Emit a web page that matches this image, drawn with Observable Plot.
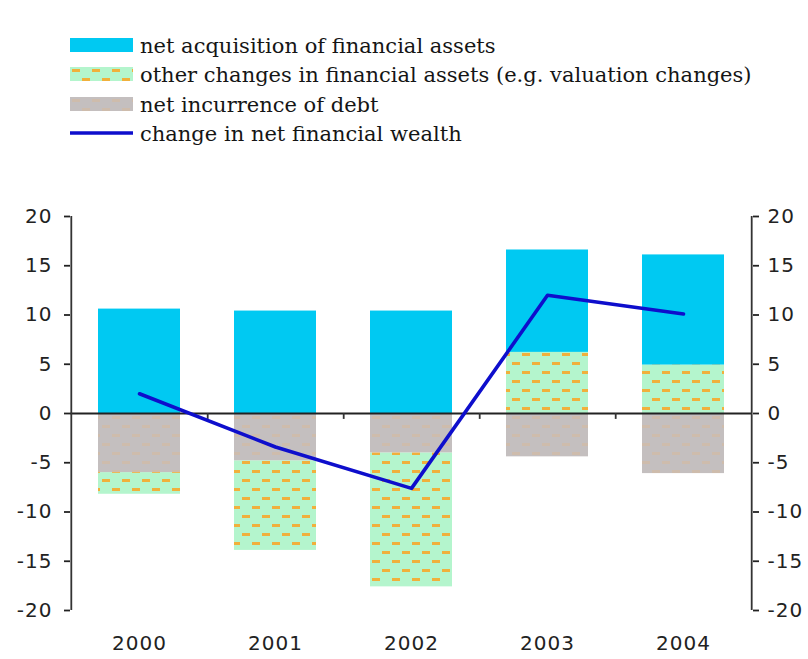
<!DOCTYPE html>
<html>
<head>
<meta charset="utf-8">
<script src="https://cdn.jsdelivr.net/npm/d3@7"></script>
<script src="https://cdn.jsdelivr.net/npm/@observablehq/plot@0.6"></script>
<style>
  html, body { margin: 0; padding: 0; background: #fff; }
  #wrap { width: 808px; height: 659px; position: relative; overflow: hidden; }
  #legend { position: relative; height: 170px; font-family: "DejaVu Serif", "Liberation Serif", serif; font-size: 20px; color: #151515; }
  .row { position: absolute; left: 70px; height: 24px; display: flex; align-items: center; }
  .row svg { display: block; margin-right: 7px; flex: none; }
  .row span { white-space: nowrap; }
</style>
</head>
<body>
<div id="wrap">
  <div id="legend"></div>
  <div id="chart"></div>
</div>
<script>
// ---- data ----
const years = ["2000", "2001", "2002", "2003", "2004"];
const acquisition = [10.6, 10.4, 10.4, 10.4, 11.2];
const otherChanges = [-2.2, -9.1, -13.6, 6.2, 4.9];
const debt = [-6.0, -4.8, -4.0, -4.4, -6.1];
const netWealth = [2.0, -3.4, -7.6, 12.0, 10.1];
const yTicks = [-20, -15, -10, -5, 0, 5, 10, 15, 20];
const seriesNames = [
  "net acquisition of financial assets",
  "other changes in financial assets (e.g. valuation changes)",
  "net incurrence of debt"
];
const lineName = "change in net financial wealth";

// ---- styling ----
const fills = ["#00c9f2", "url(#greenPat)", "url(#grayPat)"];
const lineColor = "#0e0ecc";
const stackOrder = [seriesNames[2], seriesNames[1], seriesNames[0]];

const barData = [];
years.forEach((y, i) => {
  barData.push({year: y, series: seriesNames[0], value: acquisition[i]});
  barData.push({year: y, series: seriesNames[1], value: otherChanges[i]});
  barData.push({year: y, series: seriesNames[2], value: debt[i]});
});
const lineData = years.map((y, i) => ({year: y, value: netWealth[i]}));

const W = 808, H = 489, mL = 70, mR = 56, mT = 46, mB = 49;
const step = (W - mL - mR) / years.length;
const yMin = yTicks[0], yMax = yTicks[yTicks.length - 1];

const chart = Plot.plot({
  width: W, height: H,
  marginLeft: mL, marginRight: mR, marginTop: mT, marginBottom: mB,
  x: {domain: years, paddingInner: 0.4, paddingOuter: 0.2, axis: null, label: null},
  y: {domain: [yMin, yMax], axis: null, label: null},
  color: {domain: seriesNames, range: fills, type: "ordinal"},
  style: {fontFamily: "DejaVu Sans, sans-serif", fontSize: "20px", color: "#222", background: "white", letterSpacing: "1px"},
  marks: [
    Plot.barY(barData, {x: "year", y: "value", z: "series", fill: "series", order: stackOrder}),
    Plot.ruleY([0], {stroke: "#222", strokeWidth: 1.8}),
    Plot.ruleX([years[0]], {dx: -step / 2, y1: yMin, y2: yMax, stroke: "#333", strokeWidth: 1.8}),
    Plot.ruleX([years[years.length - 1]], {dx: step / 2, y1: yMin, y2: yMax, stroke: "#333", strokeWidth: 1.8}),
    Plot.ruleX(years.slice(0, -1), {dx: step / 2, y1: 0, y2: -0.6, stroke: "#333", strokeWidth: 1.8}),
    Plot.axisY({anchor: "left", ticks: yTicks, tickSize: 6, tickPadding: 12, tickFormat: d => String(d), label: null, strokeWidth: 1.8}),
    Plot.axisY({anchor: "right", ticks: yTicks, tickSize: 6, tickPadding: 9, tickFormat: d => String(d), label: null, strokeWidth: 1.8}),
    Plot.axisX({anchor: "bottom", tickSize: 0, tickPadding: 25, label: null}),
    Plot.line(lineData, {x: "year", y: "value", stroke: lineColor, strokeWidth: 3.6, strokeLinejoin: "round"})
  ]
});

// patterns
const defs = d3.select(chart).insert("defs", ":first-child");
const g = defs.append("pattern").attr("id", "greenPat").attr("patternUnits", "userSpaceOnUse")
  .attr("width", 20).attr("height", 18);
g.append("rect").attr("width", 20).attr("height", 18).attr("fill", "#b4f5cd");
g.append("rect").attr("x", 2).attr("y", 3).attr("width", 8).attr("height", 3).attr("fill", "#f0b03c");
g.append("rect").attr("x", 12).attr("y", 12).attr("width", 8).attr("height", 3).attr("fill", "#f0b03c");
const p = defs.append("pattern").attr("id", "grayPat").attr("patternUnits", "userSpaceOnUse")
  .attr("width", 20).attr("height", 18);
p.append("rect").attr("width", 20).attr("height", 18).attr("fill", "#c4bfbf");
p.append("rect").attr("x", 2).attr("y", 3).attr("width", 8).attr("height", 3).attr("fill", "#d6b99c").attr("opacity", 0.55);
p.append("rect").attr("x", 12).attr("y", 12).attr("width", 8).attr("height", 3).attr("fill", "#d6b99c").attr("opacity", 0.55);

document.getElementById("chart").appendChild(chart);

// legend
const legend = d3.select("#legend");
const rowsY = [33, 62, 92, 121];
const items = [
  {name: seriesNames[0], fill: fills[0]},
  {name: seriesNames[1], fill: fills[1]},
  {name: seriesNames[2], fill: fills[2]},
  {name: lineName, line: true}
];
const spans = [];
items.forEach((it, i) => {
  const row = legend.append("div").attr("class", "row").style("top", rowsY[i] + "px");
  const s = row.append("svg").attr("width", 63).attr("height", 16);
  if (it.line) {
    s.append("line").attr("x1", 0).attr("x2", 63).attr("y1", 8).attr("y2", 8)
      .attr("stroke", lineColor).attr("stroke-width", 3.4);
  } else {
    s.append("rect").attr("x", 0).attr("y", 1).attr("width", 63).attr("height", 14).attr("fill", it.fill);
  }
  spans.push(row.append("span").text(it.name).node());
});
// fit the longest legend label to the width it spans in the reference (about 612px)
const w = spans[1].getBoundingClientRect().width;
if (w > 0) {
  const fs = Math.max(16, Math.min(26, 20 * 612 / w));
  document.getElementById("legend").style.fontSize = fs + "px";
}
</script>
</body>
</html>
